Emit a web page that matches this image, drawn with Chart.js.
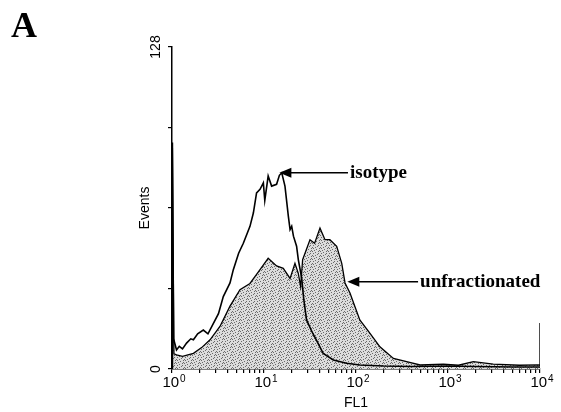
<!DOCTYPE html>
<html>
<head>
<meta charset="utf-8">
<script src="https://cdn.jsdelivr.net/npm/chart.js@4.4.0/dist/chart.umd.min.js"></script>
<style>
html, body { margin: 0; padding: 0; background: #fff; }
#wrap { width: 561px; height: 412px; }
</style>
</head>
<body>
<div id="wrap"><canvas id="histo" width="561" height="412"></canvas></div>
<script>
// FL1 channel (log scale) vs events
const isotypeFL1 = [1, 1.01, 1.04, 1.12, 1.2, 1.3, 1.44, 1.6, 1.71, 1.9, 2.19, 2.46, 2.81, 3.2, 3.61, 4.27, 4.64, 5.3, 5.96, 7.04, 7.66, 8.3, 9.05, 9.84, 10.2, 11.1, 12.1, 13.7, 14.7, 15.6, 16.9, 18.4, 19.2, 20, 20.9, 22.6, 23.6, 25.7, 27, 29, 33, 37, 44, 56.7, 79, 110, 200, 400, 1000, 2000, 5000, 10000];
const isotypeEvents = [0, 90, 12, 7.6, 9, 8, 10.3, 12, 11.6, 14, 15.5, 14, 18, 22, 28.8, 34.2, 39.5, 46, 50, 56.7, 62, 70, 71.4, 74, 67, 76.7, 72.7, 73.4, 77, 78, 72.7, 60.7, 55.4, 56.7, 52.8, 48.8, 43.5, 36, 28, 19.5, 15, 11.6, 6.2, 3.6, 2.3, 1.6, 1.2, 1, 1.2, 1, 0.8, 0.8];

const unfracFL1 = [1, 1.01, 1.05, 1.12, 1.3, 1.71, 2.1, 2.59, 3.32, 4.27, 5.48, 7.04, 9.05, 11.1, 13.7, 16.2, 19.2, 21.7, 23.6, 25, 26.3, 31.6, 35.5, 40.6, 46, 52, 61.7, 70, 76, 86, 110, 142, 182, 255, 355, 497, 891, 1300, 1884, 3100, 6000, 9560, 9950, 9990, 10000];
const unfracEvents = [0, 88, 6, 5.6, 5, 6.2, 8.5, 11.6, 16.9, 25, 31.5, 34, 39.5, 44, 41, 40, 36, 42, 38, 32.8, 43.5, 51.4, 50, 56, 51.4, 51.4, 48.8, 42, 34.2, 30.2, 19.5, 14.2, 8.8, 4.2, 2.9, 1.6, 1.9, 1.5, 2.9, 1.9, 1.5, 1.6, 1.5, 18, 18];

const xTickValues = [1, 2, 3, 4, 5, 6, 7, 8, 9, 10, 20, 30, 40, 50, 60, 70, 80, 90, 100, 200, 300, 400, 500, 600, 700, 800, 900, 1000, 2000, 3000, 4000, 5000, 6000, 7000, 8000, 9000, 10000];
const xMajorTicks = [1, 10, 100, 1000, 10000];
const xTickExponents = ['0', '1', '2', '3', '4'];
const yTickValues = [0, 32, 64, 96, 128];
const yTickLabels = ['0', '', '', '', '128'];

// arrow labels: tip on the curve, text start
const annoLabels = ['isotype', 'unfractionated'];
const annoTipFL1 = [14.7, 80.5];
const annoTipEvents = [78, 34.7];
const annoTextFL1 = [86, 497];

const SANS = '"Liberation Sans", Arial, sans-serif';
const SERIF = '"Liberation Serif", "Times New Roman", serif';

const toPoints = (xs, ys) => xs.map((x, i) => ({ x: x, y: ys[i] }));

// gray stipple like the original print
function makeStipple() {
    const rows = [
        '.x.....x',
        '....x...',
        '..x....x',
        'x.....x.',
        '...x....',
        '.x....x.',
        '.....x..',
        'x..x....'
    ];
    const c = document.createElement('canvas');
    c.width = 8; c.height = 8;
    const g = c.getContext('2d');
    g.fillStyle = '#dcdcdc';
    g.fillRect(0, 0, 8, 8);
    g.fillStyle = '#6a6a6a';
    rows.forEach((r, y) => {
        for (let x = 0; x < r.length; x++) if (r[x] === 'x') g.fillRect(x, y, 1, 1);
    });
    return g.createPattern(c, 'repeat');
}

const overlayPlugin = {
    id: 'overlay',
    afterDraw(chart) {
        const ctx = chart.ctx;
        const xs = chart.scales.x, ys = chart.scales.y;
        ctx.save();
        ctx.fillStyle = '#000';
        ctx.strokeStyle = '#000';

        // panel letter
        ctx.font = 'bold 36px ' + SERIF;
        ctx.textAlign = 'left';
        ctx.textBaseline = 'alphabetic';
        ctx.fillText('A', 11, 37);

        // x tick labels: 10 with raised exponent
        xMajorTicks.forEach((v, i) => {
            const px = xs.getPixelForValue(v);
            ctx.font = '15px ' + SANS;
            const wBase = ctx.measureText('10').width;
            ctx.font = '10px ' + SANS;
            const wExp = ctx.measureText(xTickExponents[i]).width;
            const left = px - (wBase + wExp + 1) / 2 + 2;
            ctx.font = '15px ' + SANS;
            ctx.fillText('10', left, 387);
            ctx.font = '10px ' + SANS;
            ctx.fillText(xTickExponents[i], left + wBase + 1, 382);
        });

        // rotated y tick labels
        ctx.font = '14px ' + SANS;
        ctx.textAlign = 'center';
        ctx.textBaseline = 'middle';
        yTickValues.forEach((v, i) => {
            if (!yTickLabels[i]) return;
            ctx.save();
            ctx.translate(xs.left - 16, ys.getPixelForValue(v));
            ctx.rotate(-Math.PI / 2);
            ctx.fillText(yTickLabels[i], 0, 0);
            ctx.restore();
        });

        // arrows with labels
        ctx.font = 'bold 19px ' + SERIF;
        ctx.textAlign = 'left';
        annoLabels.forEach((label, i) => {
            const tx = xs.getPixelForValue(annoTipFL1[i]);
            const ty = ys.getPixelForValue(annoTipEvents[i]);
            const sx = xs.getPixelForValue(annoTextFL1[i]);
            ctx.lineWidth = 1.5;
            ctx.beginPath();
            ctx.moveTo(tx + 10, ty);
            ctx.lineTo(sx - 2, ty);
            ctx.stroke();
            ctx.beginPath();
            ctx.moveTo(tx, ty);
            ctx.lineTo(tx + 12, ty - 5);
            ctx.lineTo(tx + 12, ty + 5);
            ctx.closePath();
            ctx.fill();
            ctx.fillText(label, sx, ty);
        });
        ctx.restore();
    }
};

new Chart(document.getElementById('histo').getContext('2d'), {
    type: 'line',
    data: {
        datasets: [{
            label: 'isotype',
            data: toPoints(isotypeFL1, isotypeEvents),
            borderColor: '#000',
            borderWidth: 1.6,
            pointRadius: 0,
            fill: false,
            tension: 0,
            order: 0
        }, {
            label: 'unfractionated',
            data: toPoints(unfracFL1, unfracEvents),
            borderColor: '#000',
            borderWidth: 1.3,
            backgroundColor: makeStipple(),
            pointRadius: 0,
            fill: 'origin',
            tension: 0,
            order: 1
        }]
    },
    options: {
        responsive: false,
        animation: false,
        layout: { padding: { left: 130, top: 47, right: 21, bottom: 0 } },
        plugins: { legend: { display: false }, tooltip: { enabled: false } },
        scales: {
            x: {
                type: 'logarithmic',
                min: 1,
                max: 10000,
                afterBuildTicks: (scale) => { scale.ticks = xTickValues.map(v => ({ value: v })); },
                afterFit: (scale) => { scale.height = 43; },
                ticks: { autoSkip: false, maxRotation: 0, callback: () => '' },
                grid: { drawOnChartArea: false, tickLength: 4, color: '#000', lineWidth: 1.2 },
                border: { color: '#000', width: 1.5 },
                title: {
                    display: true,
                    text: 'FL1',
                    color: '#000',
                    font: { family: SANS, size: 14 },
                    padding: 0
                }
            },
            y: {
                min: 0,
                max: 128,
                afterBuildTicks: (scale) => { scale.ticks = yTickValues.map(v => ({ value: v })); },
                afterFit: (scale) => { scale.width = 42; },
                ticks: { callback: () => '' },
                grid: { drawOnChartArea: false, tickLength: 4, color: '#000', lineWidth: 1.2 },
                border: { color: '#000', width: 1.5 },
                title: {
                    display: true,
                    text: 'Events',
                    color: '#000',
                    font: { family: SANS, size: 14 },
                    padding: { top: 7, bottom: 0 }
                }
            }
        }
    },
    plugins: [overlayPlugin]
});
</script>
</body>
</html>
